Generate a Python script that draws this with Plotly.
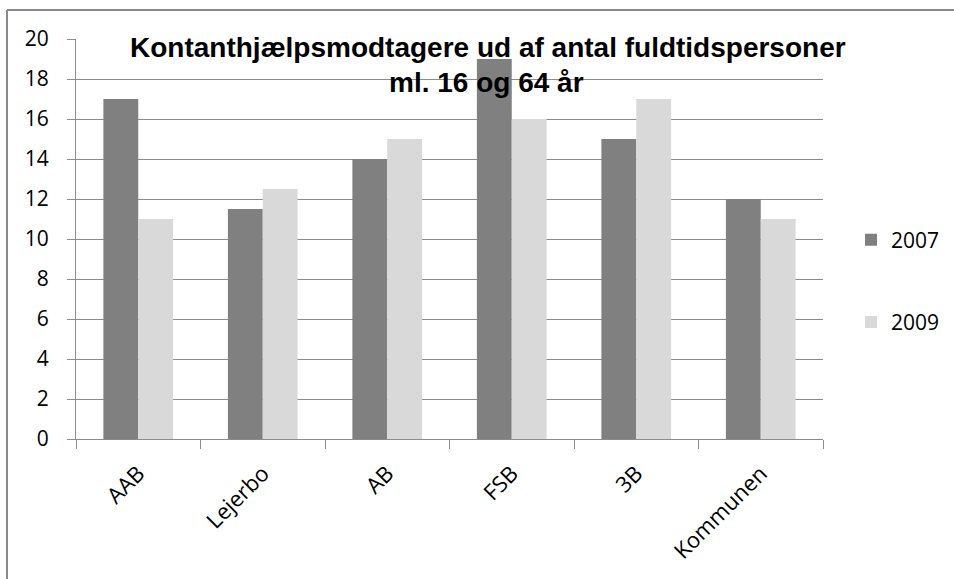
import plotly.graph_objects as go

categories = ["AAB", "Lejerbo", "AB", "FSB", "3B", "Kommunen"]
values_2007 = [17, 11.5, 14, 19, 15, 12]
values_2009 = [11, 12.5, 15, 16, 17, 11]
series_names = ["2007", "2009"]
title_line1 = "Kontanthjælpsmodtagere ud af antal fuldtidspersoner"
title_line2 = "ml. 16 og 64 år"

W, H = 954, 579
L, R, T, B = 76, 131, 39, 140
pw, ph = W - L - R, H - T - B

def px_x(x):
    return (x - L) / pw

def px_y(y):
    return (H - B - y) / ph

fig = go.Figure()
fig.add_trace(go.Bar(x=categories, y=values_2007, name=series_names[0],
                     marker=dict(color="#808080", line=dict(width=0)),
                     legendgroup="a"))
fig.add_trace(go.Bar(x=categories, y=values_2009, name=series_names[1],
                     marker=dict(color="#d9d9d9", line=dict(width=0)),
                     legendgroup="b"))

border = dict(color="#8a8a8a", width=2)
fig.update_layout(
    width=W, height=H,
    margin=dict(l=L, r=R, t=T, b=B, autoexpand=False),
    paper_bgcolor="white", plot_bgcolor="white",
    barmode="group", bargap=0.44, bargroupgap=0,
    font=dict(family="Open Sans", size=21, color="black"),
    legend=dict(x=px_x(851), y=px_y(281), xanchor="left", yanchor="middle",
                traceorder="grouped", tracegroupgap=52,
                font=dict(family="Open Sans", size=21, color="black"),
                bgcolor="rgba(0,0,0,0)"),
    xaxis=dict(type="category", showgrid=False, showline=True, linecolor="#8c8c8c",
               linewidth=1, ticks="outside", tickson="boundaries", ticklen=9,
               tickcolor="#8c8c8c", tickangle=-45, ticklabelstandoff=12,
               tickfont=dict(family="Open Sans", size=22, color="black")),
    yaxis=dict(range=[0, 20], dtick=2, showgrid=True, gridcolor="#8c8c8c", gridwidth=1,
               showline=True, linecolor="#8c8c8c", linewidth=1, ticks="outside",
               ticklen=8, tickcolor="#8c8c8c", zeroline=False,
               ticklabelstandoff=14,
               tickfont=dict(family="Open Sans", size=21, color="black")),
    shapes=[
        dict(type="line", xref="paper", yref="paper",
             x0=px_x(7), x1=px_x(W + 5), y0=px_y(10), y1=px_y(10), line=border),
        dict(type="line", xref="paper", yref="paper",
             x0=px_x(7), x1=px_x(7), y0=px_y(10), y1=px_y(H + 5), line=border),
    ],
    annotations=[
        dict(text="<b>" + title_line1 + "</b>", xref="paper", yref="paper",
             x=px_x(488), y=px_y(48), xanchor="center", yanchor="middle",
             showarrow=False,
             font=dict(family="Liberation Sans", size=28, color="black")),
        dict(text="<b>" + title_line2 + "</b>", xref="paper", yref="paper",
             x=px_x(487), y=px_y(82), xanchor="center", yanchor="middle",
             showarrow=False,
             font=dict(family="Liberation Sans", size=28, color="black")),
    ],
)

fig.write_html("out.html", config={"displayModeBar": False},
               post_script="document.body.style.margin='0px';")
